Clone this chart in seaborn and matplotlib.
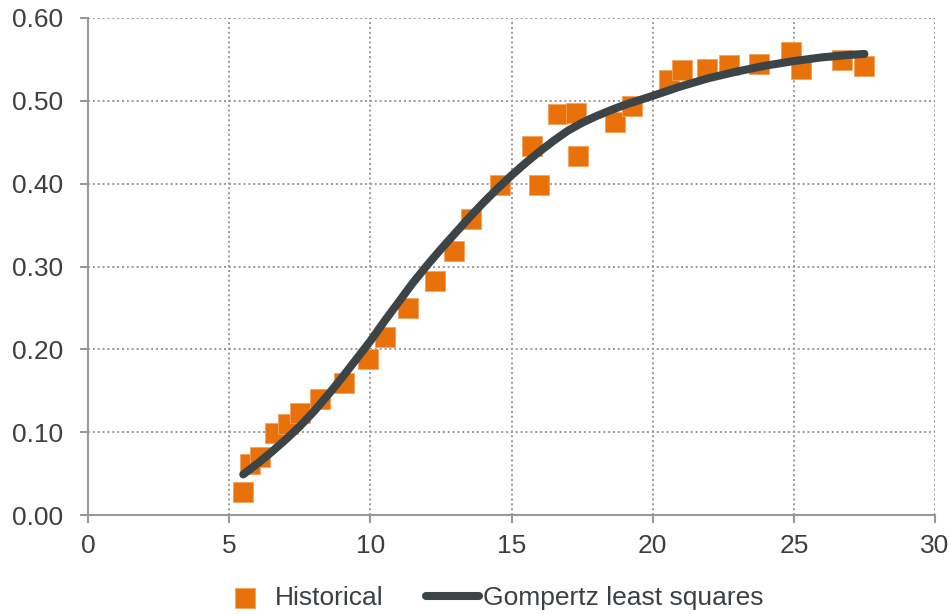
import numpy as np
import pandas as pd
import seaborn as sns
import matplotlib
matplotlib.use('Agg')
import matplotlib.pyplot as plt
from matplotlib.ticker import FormatStrFormatter

# --- data ---
hist_x = [5.49, 5.74, 6.09, 6.62, 7.10, 7.51, 8.22, 9.07, 9.93, 10.52, 11.35,
          12.29, 12.95, 13.55, 14.59, 15.72, 15.98, 16.64, 17.29, 17.37,
          18.67, 19.28, 20.56, 21.03, 21.91, 22.72, 23.78, 24.89, 25.26,
          26.72, 27.50]
hist_y = [0.028, 0.061, 0.070, 0.099, 0.110, 0.123, 0.140, 0.159, 0.188,
          0.215, 0.250, 0.283, 0.319, 0.357, 0.398, 0.445, 0.398, 0.484,
          0.485, 0.433, 0.474, 0.494, 0.525, 0.537, 0.538, 0.543, 0.544,
          0.559, 0.538, 0.549, 0.542]

fit_x = [5.5, 6, 6.5, 7, 7.5, 8, 8.5, 9, 9.5, 10, 10.5, 11, 11.5, 12, 12.5,
         13, 13.5, 14, 14.5, 15, 15.5, 16, 16.5, 17, 17.5, 18, 18.5, 19,
         19.5, 20, 21, 22, 23, 24, 25, 26, 27, 27.5]
fit_y = [0.049, 0.062, 0.076, 0.091, 0.107, 0.125, 0.145, 0.166, 0.188,
         0.210, 0.234, 0.257, 0.280, 0.301, 0.321, 0.340, 0.359, 0.377,
         0.394, 0.410, 0.425, 0.439, 0.452, 0.464, 0.4735, 0.4815, 0.4885,
         0.495, 0.5005, 0.506, 0.5175, 0.5275, 0.5355, 0.5425, 0.548,
         0.5525, 0.5555, 0.5566]

x_ticks = [0, 5, 10, 15, 20, 25, 30]
y_ticks = [0.0, 0.1, 0.2, 0.3, 0.4, 0.5, 0.6]

hist = pd.DataFrame({'x': hist_x, 'y': hist_y})
fit = pd.DataFrame({'x': fit_x, 'y': fit_y})

# --- style ---
sns.set_theme(style='white')
plt.rcParams['font.family'] = ['Liberation Sans', 'DejaVu Sans']
plt.rcParams['font.size'] = 19

orange = '#E8710A'
dark = '#3C4448'
grey = '#999999'
text_col = '#3C4043'

fig = plt.figure(figsize=(9.49, 6.14), dpi=100)
ax = fig.add_axes([0.0927, 0.1612, 0.8926, 0.8095])

sns.scatterplot(data=hist, x='x', y='y', ax=ax, marker='s', s=200,
                color=orange, edgecolor='#F3A25E', linewidth=0.6,
                label='Historical', zorder=3)
sns.lineplot(data=fit, x='x', y='y', ax=ax, color=dark, linewidth=5.8,
             solid_capstyle='round', solid_joinstyle='round',
             label='Gompertz least squares', zorder=4)

ax.set_xlim(0, 30)
ax.set_ylim(0, 0.6)
ax.set_xticks(x_ticks)
ax.set_yticks(y_ticks)
ax.yaxis.set_major_formatter(FormatStrFormatter('%.2f'))
ax.set_xlabel('')
ax.set_ylabel('')

ax.grid(True, linestyle=(0, (1, 1.5)), color=grey, linewidth=1.4)
ax.set_axisbelow(True)

for side in ['top', 'right']:
    ax.spines[side].set_visible(False)
for side in ['left', 'bottom']:
    ax.spines[side].set_color(grey)
    ax.spines[side].set_linewidth(1.5)
    ax.spines[side].set_zorder(5)

ax.tick_params(axis='both', which='major', direction='out', length=6,
               width=1.5, color=grey, labelcolor=text_col, labelsize=19,
               left=True, bottom=True)
ax.tick_params(axis='y', pad=12)
ax.tick_params(axis='x', pad=8)

ax.get_legend().remove()
handles, labels = ax.get_legend_handles_labels()
fig.legend(handles, labels, loc='center', bbox_to_anchor=(0.517, 0.026),
           ncol=2, frameon=False, fontsize=19, handlelength=2.0,
           handletextpad=0.15, columnspacing=1.6, labelcolor=text_col)

fig.savefig('out.png', dpi=100)
